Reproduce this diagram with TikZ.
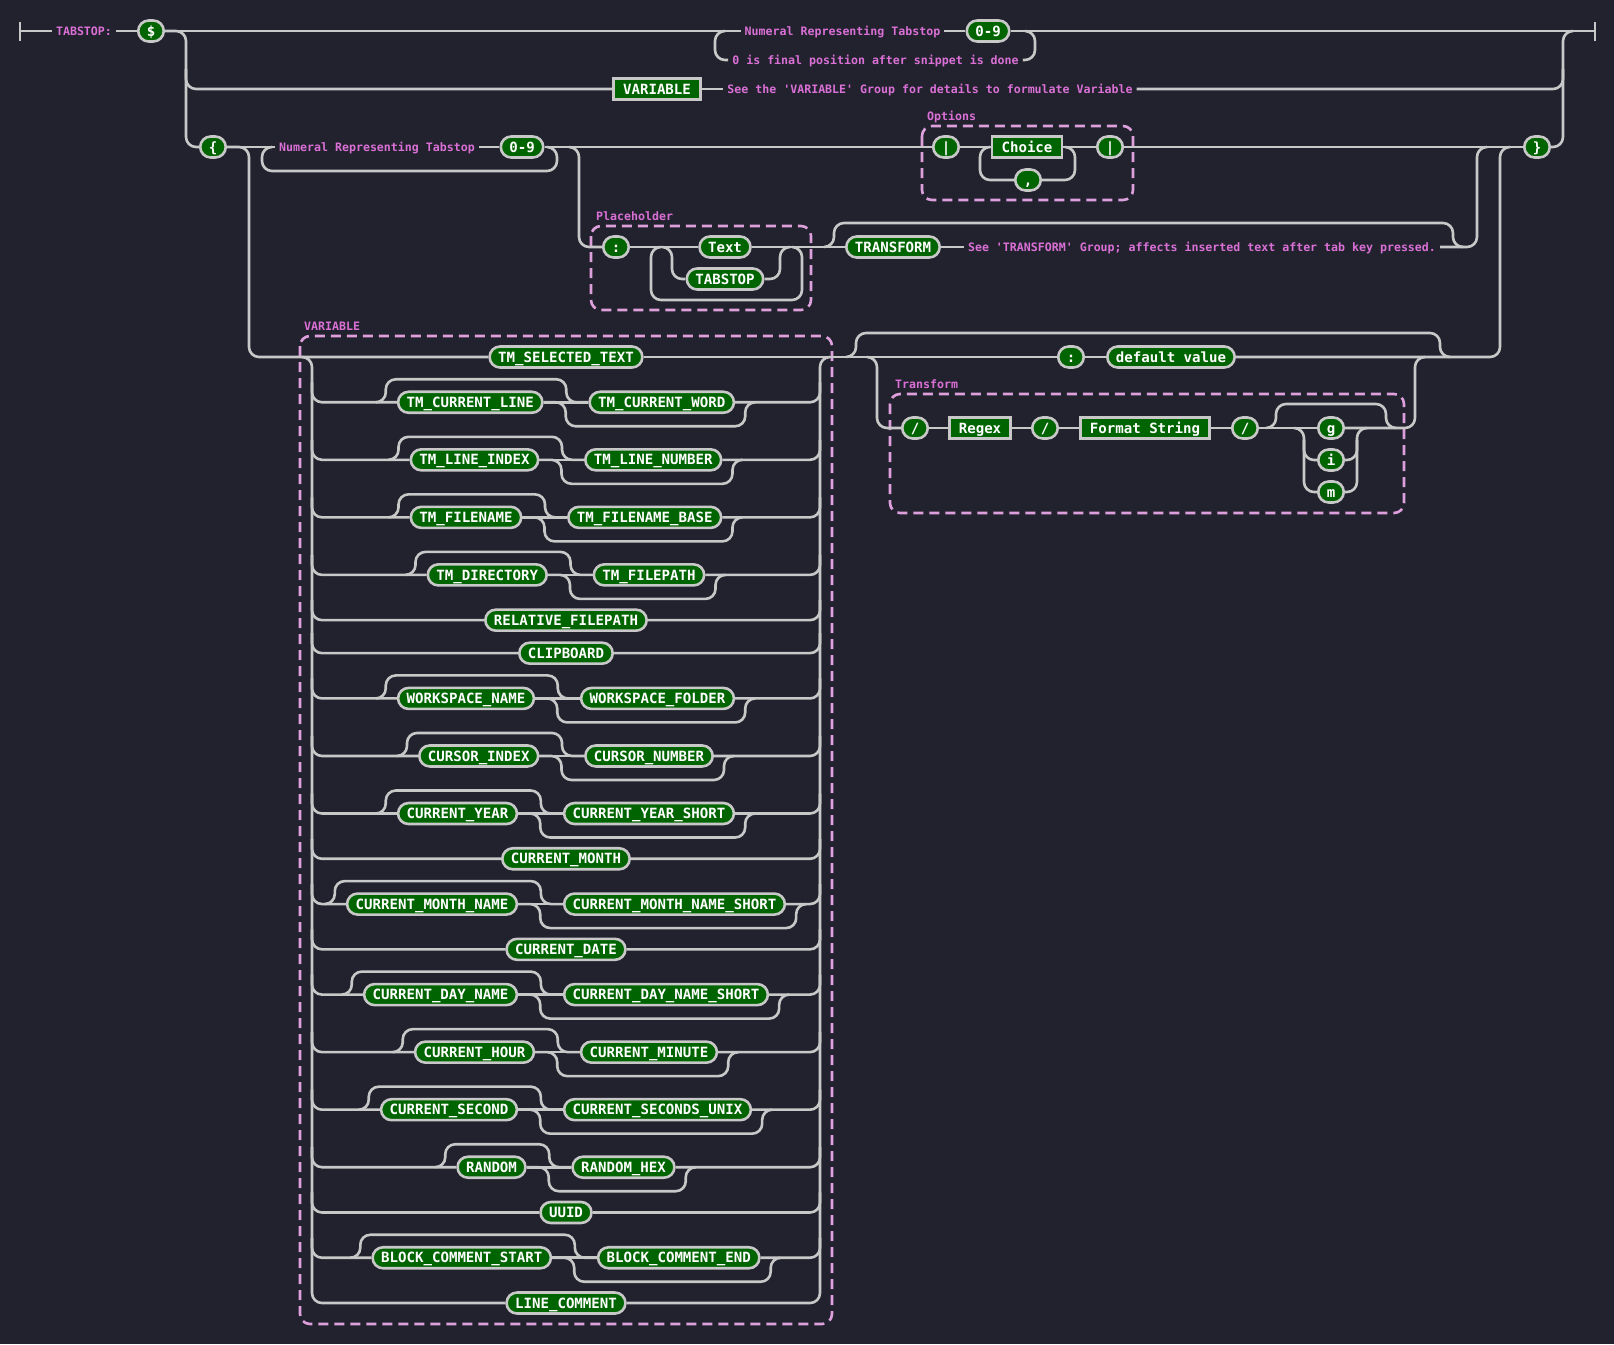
\documentclass[tikz,border=0pt]{standalone}
\usepackage{fontspec}
\setmonofont{DejaVu Sans Mono}
\usetikzlibrary{calc}
\definecolor{bgc}{HTML}{22222E}
\definecolor{railc}{HTML}{C8C8C8}
\definecolor{nodefill}{HTML}{006400}
\definecolor{pinkt}{HTML}{DA70D6}
\definecolor{grpc}{HTML}{DDA0DD}
\newcommand\osrow[7]{%
  \node[term] (#2) at (#3,#1) {#4};
  \node[term] (#5) at (#6,#1) {#7};
  \draw[rail] (312,#1-20) -- (312,#1) -- (#2.west);
  \draw[rail] (#2.east) -- (#5.west);
  \draw[rail] (#5.east) -- (820,#1) -- (820,#1-20);
  \draw[rail] ($(#2.west)+(-21,0)$) -- ++(10,0) -- ++(0,-23) -- ($(#5.west)+(-22,-23)$) -- ++(0,23) -- (#5.west);
  \draw[rail] (#2.east) -- ++(22,0) -- ++(0,24) -- ($(#5.east)+(10,24)$) -- ++(0,-24) -- ++(10,0);
}
\newcommand\onerow[3]{%
  \node[term] (#2) at (566,#1) {#3};
  \draw[rail] (312,#1-20) -- (312,#1) -- (#2.west);
  \draw[rail] (#2.east) -- (820,#1) -- (820,#1-20);
}
\begin{document}
\begin{tikzpicture}[x=1pt,y=-1pt,
  rail/.style={draw=railc,line width=2.6pt,rounded corners=10pt},
  bar/.style={draw=railc,line width=2.6pt},
  term/.style={draw=railc,fill=nodefill,line width=2.6pt,rounded corners=10.5pt,text=white,
    font=\ttfamily\bfseries\fontsize{14.1}{16}\selectfont,inner xsep=8.5pt,inner ysep=2pt,
    minimum height=21pt,text height=10.3pt,text depth=0pt},
  nonterm/.style={term,rounded corners=0pt,inner xsep=9.5pt},
  cmt/.style={text=pinkt,font=\ttfamily\bfseries\fontsize{11.6}{13}\selectfont,
    inner xsep=4pt,inner ysep=1pt,text height=8.5pt,text depth=0pt},
  grp/.style={draw=grpc,line width=2.6pt,dash pattern=on 10pt off 6pt,rounded corners=10pt},
  glabel/.style={cmt,anchor=west,inner sep=0pt}]
\fill[bgc] (0,0) rectangle (1614,1344);
\useasboundingbox (0,0) rectangle (1614,1344);

% ---------- group boxes ----------
\draw[grp] (922,126) rectangle (1133,200);
\node[glabel] (lopt) at (927,116) {Options};
\draw[grp] (591,226) rectangle (811,310);
\node[glabel] (lph) at (596,216) {Placeholder};
\draw[grp] (300,336) rectangle (832,1324);
\node[glabel] (lvar) at (304,326) {VARIABLE};
\draw[grp] (890,394) rectangle (1404,513);
\node[glabel] (ltr) at (895,384) {Transform};

% ---------- top level ----------
\coordinate (st) at (20,31);
\coordinate (en) at (1595,31);
\draw[bar] (20,22) -- (20,41);
\draw[bar] (1595,22) -- (1595,41);
\node[cmt] (tabc) at (84,31) {TABSTOP:};
\node[term] (dollar) at (151,31) {\$};
\draw[rail] (st) -- (tabc.west);
\draw[rail] (tabc.east) -- (dollar.west);

% row A
\node[cmt] (numA) at (842.5,31) {Numeral Representing Tabstop};
\node[term] (zA) at (988,31) {0-9};
\node[cmt] (fin) at (875.5,60) {0 is final position after snippet is done};
\draw[rail] (dollar.east) -- (numA.west);
\draw[rail] (numA.east) -- (zA.west);
\draw[rail] (zA.east) -- (en);
\draw[rail] (725,31) -- (715,31) -- (715,60) -- (fin.west);
\draw[rail] (fin.east) -- (1035,60) -- (1035,31) -- (1025,31);

% row B
\node[nonterm] (varnt) at (657,89) {VARIABLE};
\node[cmt] (varc) at (930,89) {See the 'VARIABLE' Group for details to formulate Variable};
\draw[rail] (186,69) -- (186,89) -- (varnt.west);
\draw[rail] (varnt.east) -- (varc.west);
\draw[rail] (varc.east) -- (1563,89) -- (1563,69);

% row C
\node[term] (lbrace) at (213,147) {\{};
\node[term] (rbrace) at (1537,147) {\}};
\draw[rail] (dollar.east) -- (186,31) -- (186,147) -- (lbrace.west);
\draw[rail] (rbrace.east) -- (1563,147) -- (1563,31) -- (1573,31);

\node[cmt] (numB) at (377,147) {Numeral Representing Tabstop};
\node[term] (zB) at (522,147) {0-9};
\draw[rail] (lbrace.east) -- (numB.west);
\draw[rail] (numB.east) -- (zB.west);
\draw[rail] (272,147) -- (262,147) -- (262,171) -- (557,171) -- (557,147) -- (547,147);

% options
\node[term] (pipeA) at (946,147) {|};
\node[nonterm] (choice) at (1027,147) {Choice};
\node[term] (comma) at (1028,180) {,};
\node[term] (pipeB) at (1110,147) {|};
\draw[rail] (zB.east) -- (pipeA.west);
\draw[rail] (pipeA.east) -- (choice.west);
\draw[rail] (choice.east) -- (pipeB.west);
\draw[rail] (990,147) -- (980,147) -- (980,180) -- (comma.west);
\draw[rail] (comma.east) -- (1075,180) -- (1075,147) -- (1065,147);
\draw[rail] (pipeB.east) -- (rbrace.west);

% placeholder
\node[term] (colon) at (616,247) {:};
\node[term] (txt) at (725,247) {Text};
\node[term] (tabst) at (725,279) {TABSTOP};
\node[term] (transf) at (893,247) {TRANSFORM};
\node[cmt] (trc) at (1202,247) {See 'TRANSFORM' Group; affects inserted text after tab key pressed.};
\draw[rail] (569,147) -- (579,147) -- (579,247) -- (colon.west);
\draw[rail] (colon.east) -- (txt.west);
\draw[rail] (txt.east) -- (transf.west);
\draw[rail] (662,247) -- (672,247) -- (672,279) -- (tabst.west);
\draw[rail] (tabst.east) -- (780,279) -- (780,247) -- (790,247);
\draw[rail] (661,247) -- (651,247) -- (651,300) -- (802,300) -- (802,247) -- (792,247);
\draw[rail] (824,247) -- (834,247) -- (834,223) -- (1453,223) -- (1453,247) -- (1463,247);
\draw[rail] (transf.east) -- (trc.west);
\draw[rail] (trc.east) -- (1477,247) -- (1477,147) -- (1487,147);

% ---------- VARIABLE group ----------
\node[term] (tmsel) at (566,357) {TM\_SELECTED\_TEXT};
\draw[rail] (lbrace.east) -- (249,147) -- (249,357) -- (tmsel.west);
\osrow{402.27}{rtwoa}{470.25}{TM\_CURRENT\_LINE}{rtwob}{661.75}{TM\_CURRENT\_WORD}
\osrow{459.81}{rthra}{474.5}{TM\_LINE\_INDEX}{rthrb}{653.25}{TM\_LINE\_NUMBER}
\osrow{517.35}{rfoua}{466}{TM\_FILENAME}{rfoub}{644.75}{TM\_FILENAME\_BASE}
\osrow{574.89}{rfiva}{487.25}{TM\_DIRECTORY}{rfivb}{649}{TM\_FILEPATH}
\onerow{620.16}{rsix}{RELATIVE\_FILEPATH}
\onerow{653.16}{rsev}{CLIPBOARD}
\osrow{698.43}{reiga}{466}{WORKSPACE\_NAME}{reigb}{657.5}{WORKSPACE\_FOLDER}
\osrow{755.97}{rnina}{478.75}{CURSOR\_INDEX}{rninb}{649}{CURSOR\_NUMBER}
\osrow{813.51}{rtena}{457.5}{CURRENT\_YEAR}{rtenb}{649}{CURRENT\_YEAR\_SHORT}
\onerow{858.78}{relv}{CURRENT\_MONTH}
\osrow{904.05}{rtwla}{432}{CURRENT\_MONTH\_NAME}{rtwlb}{674.5}{CURRENT\_MONTH\_NAME\_SHORT}
\onerow{949.32}{rthi}{CURRENT\_DATE}
\osrow{994.59}{rfora}{440.5}{CURRENT\_DAY\_NAME}{rforb}{666}{CURRENT\_DAY\_NAME\_SHORT}
\osrow{1052.13}{rfifa}{474.5}{CURRENT\_HOUR}{rfifb}{649}{CURRENT\_MINUTE}
\osrow{1109.67}{rsixa}{449}{CURRENT\_SECOND}{rsixb}{657.5}{CURRENT\_SECONDS\_UNIX}
\osrow{1167.21}{rsvna}{491.5}{RANDOM}{rsvnb}{623.5}{RANDOM\_HEX}
\onerow{1212.48}{reit}{UUID}
\osrow{1257.75}{rnnta}{461.75}{BLOCK\_COMMENT\_START}{rnntb}{678.75}{BLOCK\_COMMENT\_END}
\node[term] (lcom) at (566,1303.02) {LINE\_COMMENT};
\draw[rail] (302,357) -- (312,357) -- (312,1303.02) -- (lcom.west);
\draw[rail] (lcom.east) -- (820,1303.02) -- (820,357) -- (830,357);

% ---------- default value / transform ----------
\node[term] (dcolon) at (1071,357) {:};
\node[term] (dv) at (1171,357) {default value};
\draw[rail] (tmsel.east) -- (dcolon.west);
\draw[rail] (dcolon.east) -- (dv.west);
\draw[rail] (dv.east) -- (1500,357) -- (1500,147) -- (1510,147);
\draw[rail] (846,357) -- (856,357) -- (856,333) -- (1440,333) -- (1440,357) -- (1450,357);

\node[term] (slA) at (915,428) {/};
\node[nonterm] (regex) at (980,428) {Regex};
\node[term] (slB) at (1045,428) {/};
\node[nonterm] (fmt) at (1145,428) {Format String};
\node[term] (slC) at (1245,428) {/};
\node[term] (fg) at (1331,428) {g};
\node[term] (fi) at (1331,460) {i};
\node[term] (fm) at (1331,492) {m};
\draw[rail] (867,357) -- (877,357) -- (877,428) -- (slA.west);
\draw[rail] (slA.east) -- (regex.west);
\draw[rail] (regex.east) -- (slB.west);
\draw[rail] (slB.east) -- (fmt.west);
\draw[rail] (fmt.east) -- (slC.west);
\draw[rail] (slC.east) -- (fg.west);
\draw[rail] (fg.east) -- (1415,428) -- (1415,357) -- (1425,357);
\draw[rail] (1294,428) -- (1304,428) -- (1304,492) -- (fm.west);
\draw[rail] (1304,440) -- (1304,460) -- (fi.west);
\draw[rail] (fm.east) -- (1357,492) -- (1357,428) -- (1367,428);
\draw[rail] (fi.east) -- (1357,460) -- (1357,440);
\draw[rail] (1266,428) -- (1276,428) -- (1276,404) -- (1386,404) -- (1386,428) -- (1396,428);
\end{tikzpicture}
\end{document}
